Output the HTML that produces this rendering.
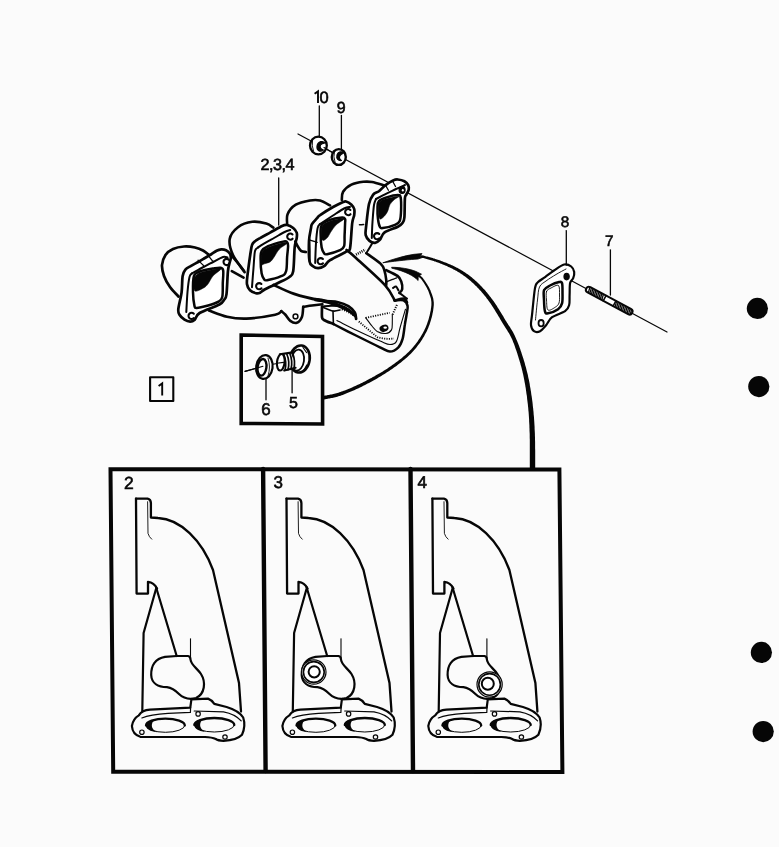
<!DOCTYPE html>
<html><head><meta charset="utf-8"><style>
html,body{margin:0;padding:0;background:#fff;}
body{width:779px;height:847px;overflow:hidden;}
svg{display:block;}
text{font-family:"Liberation Sans",sans-serif;fill:#060606;}
</style></head><body>
<svg width="779" height="847" viewBox="0 0 779 847">
<rect width="779" height="847" fill="#fbfbfb"/>
<g fill="none" stroke="#060606" stroke-linecap="round" stroke-linejoin="round">

<path d="M110.5 469.3 L559.4 469.5 L562.4 772 L113.2 771.8 Z" stroke-width="4" stroke-linejoin="miter"/>
<path d="M263.1 469 L265.6 771" stroke-width="4.4"/>
<path d="M410.5 469 L413 771" stroke-width="4.4"/>
<g transform="translate(0,0)">
<path d="M136 498.6 L147.6 498.6 Q150.8 499.2 150.9 503 L150.9 517.5 L158 518 C180 519 202 540 213 570 L239 683 L241 711.5" stroke-width="2.3"/>
<path d="M136 498.6 L136.6 593.6 L148 593.6 L148 581.8 Q154 582.4 157 588.5" stroke-width="2.3"/>
<path d="M147.6 501.7 L148 533.4 Q149 537 151.7 539.2" stroke-width="0.9"/>
<path d="M156 589 L143.6 633 L142.3 711.5" stroke-width="2.2"/>
<path d="M156 587 L176.7 656" stroke-width="2.2"/>
<path d="M176.7 656 L188 656 Q190.5 656.5 190.5 659.5 C191 665 197 668 201 674 C206 682 205 694 196 698 L191.8 698.8" stroke-width="2.2"/>
<path d="M176.7 656 L165 656.8 C155 658.5 151 666 151.2 675 C151.5 683 158 687 167 687.2 C173 688 176 691 179 694 C183 698 187 699 191.8 698.8" stroke-width="2.2"/>
<path d="M190.5 638.7 L190.5 658" stroke-width="1.1"/>
<path d="M138.8 715.4 Q142 710 150 709.6 L190.3 707.6 L191.4 699.4 L208 698.6 Q211.5 699.8 214.3 703.9 L226.6 707 Q238.5 710.5 243.2 717.5 Q246 726 242 734.7 Q237 740 223.5 740.8 Q218 740.6 215.8 739 Q212 737.2 205 737 L140.3 736.8 Q132.5 734.5 131.9 726 Q133 719 138.8 715.4 Z" stroke-width="2.2"/>
<path d="M141.9 718 Q150 714.3 168 713.3 L190.4 712.4 L190.6 707.5" stroke-width="1.2"/>
<path d="M194.2 711 L223.5 711.8 Q235 714 241.2 720.8" stroke-width="1.2"/>
<path d="M184.8 725.5 A19.4 6.8 0 0 0 146.0 725.5" stroke-width="2.3"/>
<path d="M146.0 725.5 A19.4 6.8 0 0 0 184.8 725.5" stroke-width="1.0"/>
<path d="M157.0 719.3 C149.0 720.2 146.0 722.5 146.0 725.5 C146.0 729.0 150.0 731.3 157.0 732.3 C152.0 729.5 151.5 726.5 152.0 724.0 C152.5 721.5 154.0 720.7 157.0 719.3 Z" fill="#060606" stroke="none"/>
<path d="M234.3 725.0 A20 7 0 0 0 194.3 725.0" stroke-width="2.3"/>
<path d="M194.3 725.0 A20 7 0 0 0 234.3 725.0" stroke-width="1.0"/>
<path d="M205.3 718.6 C197.3 719.5 194.3 722.0 194.3 725.0 C194.3 728.5 198.3 731.0 205.3 732.0 C200.3 729.0 199.8 726.0 200.3 723.5 C200.8 721.0 202.3 720.0 205.3 718.6 Z" fill="#060606" stroke="none"/>
<circle cx="198.1" cy="713.9" r="2.2" stroke-width="1.2"/>
<circle cx="141.9" cy="732.2" r="2.2" stroke-width="1.2"/>
<circle cx="225" cy="737" r="2.2" stroke-width="1.2"/>
</g>
<g transform="translate(150.5,0)">
<path d="M136 498.6 L147.6 498.6 Q150.8 499.2 150.9 503 L150.9 517.5 L158 518 C180 519 202 540 213 570 L239 683 L241 711.5" stroke-width="2.3"/>
<path d="M136 498.6 L136.6 593.6 L148 593.6 L148 581.8 Q154 582.4 157 588.5" stroke-width="2.3"/>
<path d="M147.6 501.7 L148 533.4 Q149 537 151.7 539.2" stroke-width="0.9"/>
<path d="M156 589 L143.6 633 L142.3 711.5" stroke-width="2.2"/>
<path d="M156 587 L176.7 656" stroke-width="2.2"/>
<path d="M176.7 656 L188 656 Q190.5 656.5 190.5 659.5 C191 665 197 668 201 674 C206 682 205 694 196 698 L191.8 698.8" stroke-width="2.2"/>
<path d="M176.7 656 L165 656.8 C155 658.5 151 666 151.2 675 C151.5 683 158 687 167 687.2 C173 688 176 691 179 694 C183 698 187 699 191.8 698.8" stroke-width="2.2"/>
<path d="M190.5 638.7 L190.5 658" stroke-width="1.1"/>
<path d="M138.8 715.4 Q142 710 150 709.6 L190.3 707.6 L191.4 699.4 L208 698.6 Q211.5 699.8 214.3 703.9 L226.6 707 Q238.5 710.5 243.2 717.5 Q246 726 242 734.7 Q237 740 223.5 740.8 Q218 740.6 215.8 739 Q212 737.2 205 737 L140.3 736.8 Q132.5 734.5 131.9 726 Q133 719 138.8 715.4 Z" stroke-width="2.2"/>
<path d="M141.9 718 Q150 714.3 168 713.3 L190.4 712.4 L190.6 707.5" stroke-width="1.2"/>
<path d="M194.2 711 L223.5 711.8 Q235 714 241.2 720.8" stroke-width="1.2"/>
<path d="M184.8 725.5 A19.4 6.8 0 0 0 146.0 725.5" stroke-width="2.3"/>
<path d="M146.0 725.5 A19.4 6.8 0 0 0 184.8 725.5" stroke-width="1.0"/>
<path d="M157.0 719.3 C149.0 720.2 146.0 722.5 146.0 725.5 C146.0 729.0 150.0 731.3 157.0 732.3 C152.0 729.5 151.5 726.5 152.0 724.0 C152.5 721.5 154.0 720.7 157.0 719.3 Z" fill="#060606" stroke="none"/>
<path d="M234.3 725.0 A20 7 0 0 0 194.3 725.0" stroke-width="2.3"/>
<path d="M194.3 725.0 A20 7 0 0 0 234.3 725.0" stroke-width="1.0"/>
<path d="M205.3 718.6 C197.3 719.5 194.3 722.0 194.3 725.0 C194.3 728.5 198.3 731.0 205.3 732.0 C200.3 729.0 199.8 726.0 200.3 723.5 C200.8 721.0 202.3 720.0 205.3 718.6 Z" fill="#060606" stroke="none"/>
<circle cx="198.1" cy="713.9" r="2.2" stroke-width="1.2"/>
<circle cx="141.9" cy="732.2" r="2.2" stroke-width="1.2"/>
<circle cx="225" cy="737" r="2.2" stroke-width="1.2"/>
</g>
<g transform="translate(296.4,0)">
<path d="M136 498.6 L147.6 498.6 Q150.8 499.2 150.9 503 L150.9 517.5 L158 518 C180 519 202 540 213 570 L239 683 L241 711.5" stroke-width="2.3"/>
<path d="M136 498.6 L136.6 593.6 L148 593.6 L148 581.8 Q154 582.4 157 588.5" stroke-width="2.3"/>
<path d="M147.6 501.7 L148 533.4 Q149 537 151.7 539.2" stroke-width="0.9"/>
<path d="M156 589 L143.6 633 L142.3 711.5" stroke-width="2.2"/>
<path d="M156 587 L176.7 656" stroke-width="2.2"/>
<path d="M176.7 656 L188 656 Q190.5 656.5 190.5 659.5 C191 665 197 668 201 674 C206 682 205 694 196 698 L191.8 698.8" stroke-width="2.2"/>
<path d="M176.7 656 L165 656.8 C155 658.5 151 666 151.2 675 C151.5 683 158 687 167 687.2 C173 688 176 691 179 694 C183 698 187 699 191.8 698.8" stroke-width="2.2"/>
<path d="M190.5 638.7 L190.5 658" stroke-width="1.1"/>
<path d="M138.8 715.4 Q142 710 150 709.6 L190.3 707.6 L191.4 699.4 L208 698.6 Q211.5 699.8 214.3 703.9 L226.6 707 Q238.5 710.5 243.2 717.5 Q246 726 242 734.7 Q237 740 223.5 740.8 Q218 740.6 215.8 739 Q212 737.2 205 737 L140.3 736.8 Q132.5 734.5 131.9 726 Q133 719 138.8 715.4 Z" stroke-width="2.2"/>
<path d="M141.9 718 Q150 714.3 168 713.3 L190.4 712.4 L190.6 707.5" stroke-width="1.2"/>
<path d="M194.2 711 L223.5 711.8 Q235 714 241.2 720.8" stroke-width="1.2"/>
<path d="M184.8 725.5 A19.4 6.8 0 0 0 146.0 725.5" stroke-width="2.3"/>
<path d="M146.0 725.5 A19.4 6.8 0 0 0 184.8 725.5" stroke-width="1.0"/>
<path d="M157.0 719.3 C149.0 720.2 146.0 722.5 146.0 725.5 C146.0 729.0 150.0 731.3 157.0 732.3 C152.0 729.5 151.5 726.5 152.0 724.0 C152.5 721.5 154.0 720.7 157.0 719.3 Z" fill="#060606" stroke="none"/>
<path d="M234.3 725.0 A20 7 0 0 0 194.3 725.0" stroke-width="2.3"/>
<path d="M194.3 725.0 A20 7 0 0 0 234.3 725.0" stroke-width="1.0"/>
<path d="M205.3 718.6 C197.3 719.5 194.3 722.0 194.3 725.0 C194.3 728.5 198.3 731.0 205.3 732.0 C200.3 729.0 199.8 726.0 200.3 723.5 C200.8 721.0 202.3 720.0 205.3 718.6 Z" fill="#060606" stroke="none"/>
<circle cx="198.1" cy="713.9" r="2.2" stroke-width="1.2"/>
<circle cx="141.9" cy="732.2" r="2.2" stroke-width="1.2"/>
<circle cx="225" cy="737" r="2.2" stroke-width="1.2"/>
</g>
<circle cx="313.8" cy="672" r="12.2" fill="#fff" stroke-width="1.2"/>
<circle cx="313.8" cy="672" r="10.4" stroke-width="1.6"/>
<circle cx="314.2" cy="671.8" r="5.6" stroke-width="2"/>
<circle cx="489.6" cy="684.4" r="12.6" fill="#fff" stroke-width="1.2"/>
<circle cx="489.6" cy="684.4" r="10.8" stroke-width="1.6"/>
<circle cx="487.8" cy="683.8" r="6" stroke-width="2"/>
<path d="M298 134 L667 332" stroke-width="1.2"/>
<ellipse cx="318.4" cy="145.5" rx="8.4" ry="8.8" fill="#fff" stroke-width="2.3"/>
<path d="M312.5 140.5 Q311.5 146 313.5 151" stroke-width="0.9"/>
<path d="M325 143 C323 140.5 318 141 317 146 C316.5 150.5 320 152.5 323.5 150 C320.5 149.5 319.5 147 320.5 145 C321.5 143.5 323.5 143.2 325 143 Z" fill="#060606" stroke-width="1.2"/>
<path d="M324 147.6 L332.5 152.5" stroke-width="1.2"/>
<ellipse cx="338.8" cy="157" rx="7" ry="7.9" fill="#fff" stroke-width="2.4"/>
<path d="M343.5 153 C342 151 338 151.5 337 155 C336 159 338.5 161 341.5 160.5 C339.5 159.5 339 157.5 339.8 156 C340.5 154.5 342 153.8 343.5 153 Z" fill="#060606" stroke-width="1.2"/>
<path d="M334.5 151.5 Q333 157 335 162" stroke-width="0.9"/>
<path d="M564.1 264.5 C567.0 263.8 569.5 265.2 571.2 266.5 C572.9 267.8 573.9 270.1 574.2 272.0 C574.5 273.9 573.9 276.2 573.2 278.1 C572.5 280.0 570.7 280.3 570.1 283.1 C569.5 285.9 569.8 291.3 569.6 295.0 C569.4 298.7 569.9 302.5 569.1 305.2 C568.4 307.9 567.9 309.2 565.1 311.2 C562.3 313.2 555.3 314.9 552.1 317.2 C548.9 319.5 548.1 322.9 546.1 325.2 C544.1 327.5 542.1 330.2 540.1 331.2 C538.1 332.2 535.5 332.2 534.0 331.2 C532.5 330.2 531.3 327.9 531.0 325.2 C530.7 322.5 531.3 321.4 532.0 315.2 C532.7 309.0 534.0 293.6 535.0 288.1 C536.0 282.6 536.4 283.9 538.1 282.1 C539.8 280.3 542.5 279.0 545.1 277.1 C547.8 275.2 550.8 272.6 554.0 270.5 C557.2 268.4 561.2 265.2 564.1 264.5 Z" stroke-width="2.2" fill="#fff" />
<path d="M535.5 320.0 C535.8 316.7 536.8 305.5 537.5 300.0 C538.2 294.5 538.1 290.2 539.5 287.0 C540.9 283.8 543.2 283.1 546.0 281.0 C548.8 278.9 552.7 276.5 556.0 274.5 C559.3 272.5 564.3 269.9 566.0 269.0" stroke-width="0.9" />
<path d="M544.1 290.1 C545.1 287.7 547.5 286.8 550.0 285.5 C552.5 284.2 557.1 282.5 559.1 282.1 C561.1 281.7 561.4 281.4 562.0 283.0 C562.6 284.6 562.5 288.6 562.5 292.0 C562.5 295.4 562.8 300.2 562.1 303.1 C561.4 306.0 560.4 307.5 558.1 309.2 C555.8 310.9 550.3 312.8 548.1 313.2 C545.9 313.6 545.7 313.7 545.0 311.5 C544.3 309.3 544.1 303.6 544.0 300.0 C543.9 296.4 543.1 292.5 544.1 290.1 Z" stroke-width="2.5" />
<path d="M546.5 291.5 C547.2 289.5 549.0 289.0 551.0 288.0 C553.0 287.0 557.1 284.3 558.5 285.5 C559.9 286.7 559.4 292.1 559.5 295.0 C559.6 297.9 559.7 301.0 559.0 303.0 C558.3 305.0 557.3 305.8 555.5 307.0 C553.7 308.2 549.5 311.2 548.0 310.0 C546.5 308.8 546.8 303.1 546.5 300.0 C546.2 296.9 545.8 293.5 546.5 291.5 Z" stroke-width="0.9" />
<ellipse cx="566.6" cy="276.6" rx="2.6" ry="3.2" fill="#060606" stroke-width="1.2"/>
<ellipse cx="541.1" cy="323.2" rx="2.6" ry="3.2" fill="none" stroke-width="1.8"/>
<g transform="translate(588.5 289.6) rotate(28.2)">
<rect x="-2.5" y="-3" width="52" height="6" rx="3" fill="#fff" stroke-width="2"/>
<path d="M0.2 -2.2 L1.2 2.2 M1.9 -2.2 L2.9 2.2 M3.6 -2.2 L4.6 2.2 M5.3 -2.2 L6.3 2.2 M7.0 -2.2 L8.0 2.2 M8.7 -2.2 L9.7 2.2 M10.4 -2.2 L11.4 2.2 M12.1 -2.2 L13.1 2.2 M13.8 -2.2 L14.8 2.2 M15.5 -2.2 L16.5 2.2" stroke-width="1.3"/>
<path d="M30.5 -2.2 L31.5 2.2 M32.2 -2.2 L33.2 2.2 M33.9 -2.2 L34.9 2.2 M35.6 -2.2 L36.6 2.2 M37.3 -2.2 L38.3 2.2 M39.0 -2.2 L40.0 2.2 M40.7 -2.2 L41.7 2.2 M42.4 -2.2 L43.4 2.2 M44.1 -2.2 L45.1 2.2 M45.8 -2.2 L46.8 2.2 M47.5 -2.2 L48.5 2.2" stroke-width="1.3"/>
<path d="M18.3 -3 L18.3 3 M29.5 -3 L29.5 3" stroke-width="1.5"/>
</g>
<path d="M245 371.4 L265.7 365.6" stroke-width="1.1"/>
<path d="M272.9 364.3 L282.7 362.5" stroke-width="1.1"/>
<ellipse cx="264.4" cy="367" rx="8.2" ry="12" fill="#fff" stroke-width="2.2" transform="rotate(8 264.4 367)"/>
<ellipse cx="262" cy="367.3" rx="4.4" ry="8.4" fill="none" stroke-width="2.4" transform="rotate(8 262 367.3)"/>
<path d="M268 358 Q271 367 268 376" stroke-width="0.9"/>
<path d="M245 371.4 L263 366.3" stroke-width="1.1"/>
<ellipse cx="299.9" cy="359" rx="9.8" ry="13.6" fill="#fff" stroke-width="2.6" transform="rotate(8 299.9 359)"/>
<ellipse cx="297.6" cy="360.2" rx="6.4" ry="10.6" fill="none" stroke-width="1.8" transform="rotate(8 297.6 360.2)"/>
<path d="M303 347.5 L306.5 352.5 M306.8 365 L304 370" stroke-width="1.2"/>
<path d="M280 354.2 L291 352.6 L295.5 368 L284 370.6 Z" fill="#fff" stroke="none"/>
<path d="M279.8 354.3 L291.2 352.6 M284.2 370.6 L295.6 367.8" stroke-width="2.1"/>
<ellipse cx="280.8" cy="362.3" rx="3.8" ry="8.3" fill="#fff" stroke-width="2.1" transform="rotate(6 280.8 362.3)"/>
<path d="M283.8 354.5 Q287 362 285 370.2 M286.8 354 Q290 361.5 288 369.8 M289.8 353.5 Q293 361 291 369.3 M292.6 353 Q295.5 360.5 294 368.6" stroke-width="1.7"/>
<path d="M276.8 363.2 L283.5 362.4" stroke-width="1.1"/>
<path d="M178.5 296.5 C177.1 294.9 172.4 290.4 170.0 287.0 C167.6 283.6 165.3 279.7 164.0 276.0 C162.7 272.3 161.8 268.5 162.0 265.0 C162.2 261.5 163.7 257.7 165.5 255.0 C167.3 252.3 169.9 250.4 173.0 249.0 C176.1 247.6 180.3 246.8 184.0 246.5 C187.7 246.2 191.8 246.8 195.0 247.5 C198.2 248.2 200.8 249.3 203.0 250.5 C205.2 251.7 207.6 253.8 208.5 254.5" stroke-width="2.7" />
<path d="M243.9 270.8 C242.1 268.2 235.4 260.3 233.0 255.0 C230.6 249.7 228.9 243.6 229.7 239.0 C230.5 234.4 234.2 230.1 238.0 227.2 C241.8 224.3 247.5 222.4 252.2 221.8 C256.9 221.2 262.8 222.6 266.3 223.6 C269.8 224.6 272.2 227.0 273.4 227.7" stroke-width="2.6" />
<path d="M230.3 254.1 C231.4 255.4 234.6 259.0 237.0 262.0 C239.4 265.0 243.3 270.4 244.6 272.1" stroke-width="2.6" />
<path d="M231.8 271.1 C233.8 272.2 241.6 276.6 243.6 277.7" stroke-width="2.6" />
<path d="M287.2 225.0 C287.3 223.2 286.2 217.6 287.6 214.2 C289.0 210.8 292.1 207.0 295.8 204.7 C299.5 202.4 306.0 201.2 310.0 200.5 C314.0 199.8 316.6 199.7 320.0 200.5 C323.4 201.3 328.4 204.6 330.1 205.4" stroke-width="2.6" />
<path d="M341.8 200.0 C342.0 198.6 341.5 194.4 343.1 191.8 C344.7 189.2 348.0 186.4 351.4 184.7 C354.8 183.0 359.8 182.2 363.2 181.8 C366.6 181.4 368.5 181.4 372.0 182.0 C375.5 182.6 382.2 184.8 384.3 185.4" stroke-width="2.6" />
<path d="M185.4 269.6 C186.8 267.9 189.0 267.1 191.1 265.8 C193.2 264.5 196.0 263.2 198.2 262.0 C200.3 260.8 201.9 259.8 204.0 258.5 C206.1 257.2 208.8 255.8 210.9 254.5 C213.0 253.2 214.9 251.6 216.6 250.7 C218.3 249.8 219.7 249.4 221.3 249.3 C222.9 249.2 224.6 249.5 226.0 250.2 C227.4 250.9 229.0 252.2 229.8 253.5 C230.6 254.8 230.9 256.5 230.8 258.2 C230.7 259.9 229.8 261.7 229.3 263.9 C228.8 266.1 228.4 266.5 227.9 271.5 C227.4 276.5 227.1 289.4 226.5 294.1 C225.9 298.8 225.3 298.1 224.1 299.8 C222.9 301.5 223.5 302.3 219.4 304.5 C215.3 306.7 203.7 310.5 199.6 313.0 C195.5 315.5 196.4 318.3 194.8 319.7 C193.2 321.1 191.8 321.6 190.1 321.6 C188.4 321.6 186.2 320.8 184.5 319.7 C182.8 318.6 180.7 316.7 179.7 315.0 C178.7 313.3 178.0 313.1 178.3 309.3 C178.6 305.5 180.9 297.8 181.6 292.3 C182.3 286.8 182.0 280.0 182.6 276.2 C183.2 272.4 184.0 271.3 185.4 269.6 Z" stroke-width="2.7" fill="#fff" />
<path d="M186.3 312.0 C186.5 308.7 187.0 297.8 187.5 292.0 C188.0 286.2 188.8 280.1 189.5 277.0 C190.2 273.9 191.4 274.1 191.8 273.5" stroke-width="2.0" />
<path d="M191.8 273.5 C193.8 272.4 199.8 269.0 203.5 267.0 C207.2 265.0 210.8 263.2 214.0 261.5 C217.2 259.8 220.8 257.7 223.0 257.0 C225.2 256.3 226.8 257.4 227.5 257.5" stroke-width="2.0" />
<path d="M198.1 260.3 C199.0 261.2 202.6 264.6 203.5 265.5" stroke-width="1.3" />
<path d="M208.9 256.3 C209.5 257.1 211.9 260.1 212.5 260.8" stroke-width="1.3" />
<path d="M193.9 276.2 C195.0 272.7 196.4 272.8 199.6 271.5 C202.8 270.2 209.3 269.2 212.8 268.6 C216.3 268.0 218.7 267.4 220.4 267.7 C222.1 268.0 222.8 268.0 223.2 270.5 C223.6 273.0 223.0 278.4 222.8 282.8 C222.7 287.2 223.0 293.9 222.3 297.0 C221.6 300.1 220.9 300.3 218.5 301.7 C216.1 303.1 211.7 304.5 208.1 305.5 C204.5 306.5 199.0 307.9 196.7 307.9 C194.4 307.9 195.0 308.1 194.4 305.5 C193.8 302.9 193.1 297.2 193.0 292.3 C192.9 287.4 192.8 279.7 193.9 276.2 Z" stroke-width="2.5" />
<path d="M194.5 277.5 C195.5 276.0 196.8 274.1 199.8 272.8 C202.9 271.5 209.3 270.5 212.8 269.8 C216.3 269.1 221.0 267.9 221.0 268.9 C221.0 269.9 215.2 273.5 213.0 276.0 C210.8 278.5 209.6 282.0 208.0 284.0 C206.4 286.0 205.7 286.8 203.5 288.0 C201.3 289.2 196.6 292.0 195.0 291.0 C193.4 290.0 194.1 284.2 194.0 282.0 C193.9 279.8 193.5 279.0 194.5 277.5 Z" stroke-width="0.5" fill="#060606" />
<path d="M253.0 243.1 C254.5 241.1 257.2 239.8 260.1 238.1 C263.0 236.3 266.4 234.6 270.1 232.6 C273.8 230.6 279.3 227.3 282.1 226.0 C284.9 224.7 285.2 224.7 287.1 225.0 C289.0 225.3 291.6 226.7 293.2 228.0 C294.8 229.3 296.1 230.9 296.7 232.6 C297.3 234.3 297.0 235.7 296.7 238.1 C296.4 240.5 295.3 241.6 294.7 247.1 C294.1 252.6 294.1 266.2 293.2 271.2 C292.3 276.2 291.6 275.2 289.1 277.2 C286.6 279.2 282.0 281.0 278.0 283.0 C274.0 285.0 268.1 287.6 265.1 289.2 C262.1 290.8 261.6 292.0 260.1 292.7 C258.6 293.4 257.7 293.6 256.0 293.2 C254.3 292.8 251.5 291.7 250.0 290.2 C248.5 288.7 247.4 286.7 247.0 284.2 C246.6 281.7 246.8 280.9 247.5 275.2 C248.2 269.5 250.1 255.4 251.0 250.1 C251.9 244.8 251.5 245.1 253.0 243.1 Z" stroke-width="2.7" fill="#fff" />
<path d="M252.0 287.2 C252.2 284.0 253.0 274.0 253.5 268.0 C254.0 262.0 254.2 254.5 255.0 251.1 C255.8 247.7 257.5 248.1 258.0 247.5" stroke-width="2.0" />
<path d="M258.0 247.5 C258.9 246.9 260.4 245.7 263.1 244.1 C265.8 242.5 270.4 240.0 274.0 238.0 C277.6 236.0 281.9 233.3 284.6 232.0 C287.3 230.7 289.3 230.3 290.2 230.0" stroke-width="2.0" />
<path d="M261.6 251.1 C262.9 248.9 264.5 247.7 268.1 246.1 C271.7 244.5 279.9 242.3 283.1 241.6 C286.3 240.9 286.3 241.3 287.1 242.1 C287.9 242.8 288.1 243.6 288.1 246.1 C288.1 248.6 287.4 252.9 287.1 257.1 C286.8 261.3 287.1 268.0 286.1 271.2 C285.1 274.4 284.3 274.7 281.1 276.2 C277.9 277.7 269.9 279.7 267.1 280.2 C264.3 280.7 265.0 280.4 264.1 279.2 C263.2 278.0 262.2 276.5 261.6 273.2 C261.0 269.9 260.6 262.8 260.6 259.1 C260.6 255.4 260.4 253.3 261.6 251.1 Z" stroke-width="2.5" />
<path d="M262.3 252.0 C263.5 250.4 264.9 248.8 268.4 247.3 C271.9 245.8 280.0 243.4 283.1 242.8 C286.2 242.2 287.6 242.5 287.0 243.5 C286.4 244.5 281.8 246.6 279.5 249.0 C277.2 251.4 275.1 255.8 273.5 258.0 C271.9 260.2 271.5 261.0 270.0 262.0 C268.5 263.0 265.9 263.4 264.5 263.8 C263.1 264.2 262.1 265.6 261.5 264.5 C260.9 263.4 261.1 259.1 261.2 257.0 C261.3 254.9 261.1 253.6 262.3 252.0 Z" stroke-width="0.5" fill="#060606" />
<path d="M312.0 224.1 C313.0 222.4 315.8 219.6 317.1 218.1 C318.5 216.6 317.4 216.9 320.1 215.1 C322.8 213.2 329.4 209.1 333.1 207.0 C336.8 204.9 339.9 203.4 342.1 202.5 C344.3 201.6 344.6 201.2 346.1 201.5 C347.6 201.8 349.9 203.2 351.2 204.5 C352.5 205.8 353.7 207.2 354.2 209.0 C354.7 210.8 354.5 212.8 354.2 215.1 C353.9 217.4 352.9 217.8 352.2 223.1 C351.5 228.4 351.0 242.5 350.2 247.2 C349.4 251.9 350.5 249.0 347.1 251.2 C343.8 253.4 333.9 257.7 330.1 260.2 C326.3 262.7 326.1 264.9 324.1 266.2 C322.1 267.5 320.0 268.2 318.1 268.2 C316.2 268.2 314.4 267.4 313.0 266.2 C311.6 265.0 310.2 265.4 309.5 261.2 C308.8 257.0 308.8 246.6 309.0 241.1 C309.2 235.6 310.5 230.9 311.0 228.1 C311.5 225.3 311.0 225.8 312.0 224.1 Z" stroke-width="2.7" fill="#fff" />
<path d="M315.2 263.0 C315.3 259.7 315.6 248.8 316.0 243.0 C316.4 237.2 316.9 231.3 317.6 228.1 C318.3 224.9 319.6 224.7 320.0 224.0" stroke-width="2.0" />
<path d="M320.0 224.0 C322.2 222.6 329.0 218.1 333.0 215.5 C337.0 212.9 341.3 209.9 344.1 208.5 C346.9 207.1 349.0 207.2 350.0 207.0" stroke-width="2.0" />
<path d="M309.5 239.8 C310.8 240.2 315.8 241.9 317.1 242.3" stroke-width="1.4" />
<path d="M321.6 225.1 C323.0 222.9 325.7 221.3 329.1 220.1 C332.5 218.8 339.4 217.8 342.1 217.6 C344.8 217.4 344.6 218.2 345.1 219.1 C345.6 220.0 345.2 220.4 345.1 223.1 C345.0 225.8 344.8 231.2 344.6 235.0 C344.4 238.8 344.9 243.7 344.1 246.2 C343.4 248.7 342.9 248.9 340.1 250.2 C337.3 251.5 329.8 253.7 327.1 254.2 C324.4 254.7 325.0 254.4 324.1 253.2 C323.2 252.0 322.2 250.5 321.6 247.2 C321.0 243.8 320.6 236.8 320.6 233.1 C320.6 229.4 320.2 227.3 321.6 225.1 Z" stroke-width="2.5" />
<path d="M322.3 226.0 C323.6 223.5 325.7 222.4 329.3 221.2 C332.9 220.0 342.9 218.1 344.0 218.7 C345.1 219.3 338.2 222.7 336.0 225.0 C333.8 227.3 331.9 230.4 330.5 232.5 C329.1 234.6 328.8 236.2 327.5 237.5 C326.2 238.8 324.0 240.8 323.0 240.5 C322.0 240.2 321.4 238.4 321.3 236.0 C321.2 233.6 321.0 228.5 322.3 226.0 Z" stroke-width="0.5" fill="#060606" />
<path d="M385.5 185.1 C387.9 183.3 391.1 181.3 393.1 180.4 C395.2 179.5 395.9 179.3 397.8 179.5 C399.7 179.7 402.7 180.4 404.4 181.3 C406.1 182.2 407.5 183.7 408.2 185.1 C408.9 186.5 409.0 188.2 408.7 189.8 C408.4 191.4 406.9 193.2 406.3 194.6 C405.7 196.0 405.2 194.6 404.9 198.4 C404.6 202.2 404.8 213.2 404.4 217.3 C404.0 221.4 403.6 221.3 402.5 222.9 C401.4 224.5 400.8 225.1 397.8 226.7 C394.8 228.3 387.6 230.2 384.6 232.4 C381.6 234.6 381.4 238.2 379.8 239.9 C378.2 241.6 376.8 242.6 375.1 242.8 C373.4 243.0 371.1 242.2 369.5 240.9 C367.9 239.6 366.3 237.6 365.7 235.2 C365.1 232.8 365.6 231.9 366.1 226.7 C366.7 221.5 367.8 209.3 369.0 204.0 C370.2 198.7 371.6 196.7 373.2 194.6 C374.8 192.5 376.8 192.9 378.9 191.3 C380.9 189.7 383.1 186.9 385.5 185.1 Z" stroke-width="2.7" fill="#fff" />
<path d="M371.8 238.0 C371.9 235.3 372.1 227.5 372.5 222.0 C372.9 216.5 373.4 208.8 374.0 205.0 C374.6 201.2 375.7 200.0 376.0 199.0" stroke-width="2.0" />
<path d="M376.0 199.0 C377.5 198.2 381.7 196.0 385.0 194.3 C388.3 192.6 392.7 190.6 396.0 189.0 C399.3 187.4 403.5 185.7 405.0 185.0" stroke-width="2.0" />
<path d="M378.9 201.2 C380.4 199.5 383.4 198.4 386.5 197.4 C389.6 196.4 395.4 195.0 397.8 195.0 C400.2 195.0 400.1 195.0 400.6 197.4 C401.2 199.8 401.2 205.8 401.1 209.7 C401.0 213.6 400.7 218.5 399.7 221.0 C398.7 223.5 397.8 223.6 395.0 224.8 C392.2 226.0 385.2 227.8 382.7 228.1 C380.2 228.4 380.6 228.2 379.8 226.7 C379.0 225.2 378.4 222.2 378.0 219.1 C377.6 215.9 377.4 210.8 377.5 207.8 C377.6 204.8 377.4 202.9 378.9 201.2 Z" stroke-width="2.5" />
<path d="M379.5 202.0 C380.9 199.8 383.4 199.5 386.7 198.5 C389.9 197.5 397.7 196.0 399.0 196.2 C400.3 196.4 396.0 198.1 394.5 199.5 C393.0 200.9 391.1 202.6 390.0 204.5 C388.9 206.4 388.7 209.1 387.8 211.0 C386.9 212.9 385.8 214.7 384.5 216.0 C383.2 217.3 381.0 219.7 380.0 219.0 C379.0 218.3 378.6 214.8 378.5 212.0 C378.4 209.2 378.1 204.2 379.5 202.0 Z" stroke-width="0.5" fill="#060606" />
<path d="M385.5 185.1 C386.0 186.0 387.9 189.4 388.4 190.3" stroke-width="1.3" />
<path d="M392.5 181.0 C393.0 181.9 395.0 185.6 395.5 186.5" stroke-width="1.3" />
<path d="M209.0 310.5 C212.0 311.5 220.8 315.3 227.0 316.7 C233.2 318.1 238.3 318.9 246.3 318.6 C254.3 318.3 269.4 315.9 275.2 314.7 C281.0 313.5 280.3 311.8 281.3 311.2" stroke-width="2.6" />
<path d="M281.3 311.2 C281.9 311.8 283.7 312.9 285.2 314.5 C286.7 316.1 288.4 319.5 290.3 320.9 C292.2 322.3 294.9 323.4 296.8 322.8 C298.7 322.2 300.8 319.7 301.9 317.0 C303.0 314.3 303.0 308.5 303.2 306.8" stroke-width="2.6" />
<circle cx="295.5" cy="316.4" r="2.4" stroke-width="1.5"/>
<path d="M303.2 306.8 C304.7 306.6 308.8 305.9 312.0 305.5 C315.2 305.1 320.7 304.4 322.4 304.2" stroke-width="2.6" />
<path d="M273.6 284.9 C277.0 286.4 286.5 291.3 294.2 293.9 C301.9 296.5 312.6 298.9 319.9 300.3 C327.2 301.7 333.4 301.2 338.1 302.2 C342.9 303.2 345.6 304.4 348.4 306.1 C351.2 307.8 353.5 310.4 354.8 312.5 C356.1 314.6 355.9 317.8 356.1 318.9" stroke-width="2.7" />
<path d="M346.5 250.0 C348.1 251.3 349.6 252.1 356.0 258.0 C362.4 263.9 378.8 278.2 385.2 285.3 C391.6 292.4 393.1 298.0 394.7 300.5" stroke-width="2.6" />
<path d="M366.3 253.2 C368.7 254.9 377.5 260.8 380.5 263.6 C383.5 266.4 383.4 267.5 384.3 270.2 C385.2 272.9 385.9 277.2 386.2 279.7 C386.5 282.2 386.2 284.4 386.2 285.3" stroke-width="2.6" />
<path d="M372.0 243.8 C371.1 245.4 367.2 251.6 366.3 253.2" stroke-width="2.0" />
<path d="M356 254.5 L365.4 249.6" stroke-width="2.6" stroke-dasharray="1 1.1" stroke-linecap="butt"/>
<path d="M386.2 270.2 C388.1 271.1 395.0 274.0 397.5 275.9 C400.0 277.8 400.5 279.4 401.3 281.6 C402.1 283.8 402.5 287.2 402.2 289.1 C401.9 291.0 399.9 292.3 399.4 292.9" stroke-width="2.6" />
<path d="M387.1 281.6 C388.7 281.0 395.0 278.4 396.6 277.8" stroke-width="1.3" />
<path d="M393.0 288.0 C393.5 287.8 395.1 286.1 396.0 286.5 C396.9 286.9 398.1 289.8 398.5 290.5" stroke-width="2.0" />
<path d="M394.7 300.5 C396.3 300.2 402.1 298.3 404.1 298.6 C406.2 298.9 406.5 301.7 407.0 302.3" stroke-width="2.6" />
<path d="M399.4 292.9 C400.7 293.8 405.7 297.7 407.0 298.6" stroke-width="2.0" />
<path d="M394.7 300.5 C396.2 300.5 401.4 299.5 403.5 300.4 C405.6 301.3 407.1 303.7 407.6 306.1 C408.1 308.5 406.9 311.9 406.5 315.0 C406.1 318.1 405.5 320.4 404.9 324.4 C404.2 328.4 403.7 335.1 402.6 338.9 C401.5 342.7 400.5 345.2 398.4 347.3 C396.3 349.4 393.1 351.6 390.0 351.6 C386.9 351.6 385.7 350.0 380.0 347.3 C374.3 344.6 363.8 339.4 356.0 335.5 C348.2 331.6 337.2 325.9 333.4 324.0" stroke-width="2.5" />
<path d="M322.0 306.5 C323.5 306.4 327.9 305.8 331.0 305.7 C334.1 305.6 338.8 305.9 340.4 306.0" stroke-width="2.0" />
<path d="M322.0 306.5 C322.0 308.2 321.7 314.8 322.0 317.0 C322.3 319.2 322.1 318.8 324.0 320.0 C325.9 321.2 331.8 323.3 333.4 324.0" stroke-width="2.7" />
<path d="M333.0 311.0 C333.1 313.2 333.3 321.8 333.4 324.0" stroke-width="1.6" />
<path d="M322.5 307.0 C324.2 307.7 330.1 310.5 333.0 311.0 C335.9 311.5 338.8 310.2 340.0 310.0" stroke-width="1.6" />
<path d="M315 298.5 C325 299 336 303 345 307 C351 310 355 314 356.5 318.5 C354 315 350 312 345 309.5 C336 305.5 325 301.5 315 300.5 Z" fill="#060606" stroke-width="1.4"/>
<path d="M336.9 320.5 C340.4 322.2 350.6 327.5 358.0 331.0 C365.4 334.5 376.1 339.4 381.4 341.6 C386.7 343.9 387.5 344.5 390.0 344.5 C392.5 344.5 394.6 344.4 396.3 341.6 C398.0 338.9 398.5 333.4 400.0 328.0 C401.5 322.6 404.6 312.3 405.5 309.2" stroke-width="1.1" />
<g stroke-linecap="butt" stroke-dasharray="1.1 1.3">
<path d="M341.8 309.2 Q350 312 354.5 316.3" stroke-width="2"/>
<path d="M358.8 321.5 L377.2 337.1 Q385 339.5 394 338.5" stroke-width="1.8"/>
<path d="M396.9 304.8 L392.6 314.6" stroke-width="2"/>
<path d="M365.7 317.8 L389.7 312.8" stroke-width="1.8"/>
</g>
<path d="M365.7 317.8 C366.8 319.2 370.1 323.7 372.0 326.0 C373.9 328.3 374.9 330.1 377.2 331.4 C379.5 332.6 383.4 333.8 385.8 333.5 C388.2 333.2 390.4 331.8 391.5 329.9 C392.6 328.0 392.2 324.6 392.3 322.0 C392.4 319.4 392.3 315.7 392.3 314.4" stroke-width="1.1" />
<ellipse cx="384" cy="328.2" rx="4.6" ry="3.4" fill="#060606" stroke="none" transform="rotate(-20 384 328.2)"/>
<ellipse cx="385.2" cy="327.6" rx="1.8" ry="1.2" fill="#fff" stroke="none"/>
<ellipse cx="402.1" cy="190" rx="3" ry="3.4" fill="#060606" stroke-width="1.2"/>
<ellipse cx="402.8" cy="190.3" rx="1" ry="1.2" fill="#fff" stroke="none"/>
<path d="M228.8 259.8 A3.1 3.1 0 1 0 228.9 264.1" stroke-width="2.1"/>
<path d="M193.8 313.7 A3.1 3.1 0 1 0 193.9 318.0" stroke-width="2.1"/>
<path d="M292.5 234.4 A3.1 3.1 0 1 0 292.6 238.7" stroke-width="2.1"/>
<path d="M261.4 284.0 A3.1 3.1 0 1 0 261.5 288.3" stroke-width="2.1"/>
<path d="M350.4 209.9 A3.1 3.1 0 1 0 350.5 214.2" stroke-width="2.1"/>
<path d="M322.9 259.0 A3.1 3.1 0 1 0 323.0 263.3" stroke-width="2.1"/>
<path d="M379.3 234.0 A3.1 3.1 0 1 0 379.4 238.3" stroke-width="2.1"/>
<path d="M295.3 241.4 C295.7 242.2 296.6 244.4 297.5 246.0 C298.4 247.6 299.6 249.8 301.0 250.8 C302.4 251.8 305.1 251.8 305.9 252.0" stroke-width="2.7" />
<path d="M309.5 240.0 C309.6 241.7 309.9 246.5 310.0 250.0 C310.1 253.5 309.8 259.2 309.8 261.0" stroke-width="1.3" />
<path d="M359.5 224.8 C360.2 224.8 362.9 224.6 363.6 224.5" stroke-width="1.6" />
<path d="M420.7 257.4 L421.1 257.5 L421.6 257.6 L422.2 257.8 L422.8 258.0 L423.5 258.1 L424.2 258.3 L425.0 258.6 L425.8 258.8 L426.6 259.0 L427.5 259.2 L428.3 259.5 L429.2 259.7 L430.1 260.0 L431.0 260.3 L431.9 260.5 L432.8 260.8 L433.7 261.1 L434.5 261.4 L435.4 261.6 L436.2 261.9 L437.0 262.2 L437.8 262.5 L438.6 262.8 L439.4 263.1 L440.2 263.4 L441.0 263.8 L441.9 264.1 L442.7 264.4 L443.5 264.8 L444.3 265.1 L445.2 265.4 L446.0 265.8 L446.8 266.1 L447.6 266.5 L448.4 266.9 L449.2 267.2 L449.9 267.6 L450.7 267.9 L451.4 268.3 L452.1 268.6 L452.8 269.0 L453.5 269.4 L454.2 269.7 L454.9 270.1 L455.5 270.4 L456.2 270.8 L456.8 271.1 L457.4 271.5 L458.0 271.9 L458.7 272.2 L459.3 272.6 L459.9 273.0 L460.5 273.4 L461.1 273.8 L461.7 274.2 L462.3 274.6 L462.9 275.0 L463.5 275.4 L464.1 275.9 L464.7 276.3 L465.4 276.8 L466.0 277.3 L466.6 277.8 L467.2 278.3 L467.9 278.7 L468.5 279.2 L469.1 279.8 L469.7 280.3 L470.4 280.8 L471.0 281.3 L471.6 281.9 L472.2 282.4 L472.9 283.0 L473.5 283.6 L474.1 284.2 L474.7 284.8 L475.3 285.4 L476.0 286.0 L476.6 286.6 L477.2 287.3 L477.8 287.9 L478.5 288.6 L479.1 289.3 L479.7 289.9 L480.3 290.6 L481.0 291.3 L481.6 292.0 L482.2 292.8 L482.9 293.5 L483.5 294.2 L484.1 295.0 L484.7 295.8 L485.4 296.6 L486.0 297.3 L486.6 298.2 L487.2 299.0 L487.9 299.8 L488.5 300.7 L489.1 301.5 L489.8 302.4 L490.4 303.3 L491.0 304.2 L491.7 305.2 L492.3 306.2 L493.0 307.2 L493.6 308.2 L494.3 309.3 L494.9 310.3 L495.6 311.4 L496.2 312.4 L496.9 313.5 L497.5 314.6 L498.2 315.7 L498.8 316.8 L499.5 317.8 L500.1 318.9 L500.7 319.9 L501.3 320.9 L501.9 321.9 L502.5 322.9 L503.1 323.9 L503.6 324.8 L504.2 325.7 L504.7 326.6 L505.3 327.4 L505.8 328.2 L506.3 329.0 L506.8 329.8 L507.3 330.6 L507.8 331.4 L508.3 332.2 L508.8 333.0 L509.3 333.8 L509.8 334.7 L510.2 335.6 L510.7 336.5 L511.2 337.5 L511.7 338.5 L512.2 339.6 L512.7 340.8 L513.1 342.0 L513.7 343.3 L514.2 344.6 L514.7 346.0 L515.2 347.5 L515.7 349.0 L516.3 350.5 L516.8 352.0 L517.3 353.6 L517.8 355.2 L518.3 356.8 L518.8 358.4 L519.3 360.1 L519.8 361.7 L520.3 363.3 L520.7 364.9 L521.2 366.6 L521.6 368.1 L522.0 369.7 L522.4 371.2 L522.7 372.8 L523.1 374.3 L523.4 375.8 L523.7 377.3 L524.0 378.8 L524.3 380.3 L524.6 381.9 L524.9 383.4 L525.2 384.9 L525.4 386.4 L525.7 388.0 L525.9 389.5 L526.1 391.0 L526.3 392.5 L526.5 394.1 L526.8 395.6 L527.0 397.1 L527.1 398.6 L527.3 400.2 L527.5 401.7 L527.7 403.2 L527.9 404.7 L528.0 406.2 L528.2 407.7 L528.3 409.2 L528.4 410.6 L528.6 412.1 L528.7 413.6 L528.8 415.1 L528.9 416.5 L529.0 418.0 L529.1 419.5 L529.1 421.0 L529.2 422.6 L529.3 424.1 L529.4 425.7 L529.4 427.3 L529.5 428.9 L529.5 430.5 L529.6 432.2 L529.7 433.9 L529.7 435.8 L529.7 437.7 L529.8 439.7 L529.8 441.8 L529.8 443.9 L529.8 446.0 L529.8 448.2 L529.8 450.3 L529.8 452.5 L529.8 454.6 L529.8 456.6 L529.8 458.6 L529.8 460.4 L529.8 462.2 L529.8 463.9 L529.8 465.4 L529.8 466.8 L529.8 468.0 L529.8 469.0 L535.2 469.0 L535.2 468.0 L535.2 466.8 L535.2 465.4 L535.2 463.9 L535.2 462.2 L535.2 460.4 L535.2 458.6 L535.2 456.6 L535.2 454.6 L535.2 452.5 L535.2 450.3 L535.1 448.2 L535.1 446.0 L535.1 443.9 L535.1 441.7 L535.0 439.6 L535.0 437.6 L534.9 435.6 L534.9 433.8 L534.8 432.0 L534.7 430.3 L534.6 428.7 L534.6 427.0 L534.5 425.4 L534.4 423.9 L534.3 422.3 L534.2 420.7 L534.1 419.2 L534.0 417.7 L533.9 416.2 L533.7 414.7 L533.6 413.2 L533.5 411.7 L533.3 410.2 L533.2 408.7 L533.0 407.2 L532.8 405.7 L532.7 404.2 L532.5 402.6 L532.3 401.1 L532.1 399.6 L531.9 398.0 L531.7 396.5 L531.4 394.9 L531.2 393.4 L531.0 391.8 L530.7 390.3 L530.5 388.8 L530.2 387.2 L529.9 385.7 L529.7 384.1 L529.4 382.6 L529.1 381.0 L528.8 379.5 L528.4 377.9 L528.1 376.4 L527.8 374.8 L527.4 373.3 L527.0 371.7 L526.6 370.2 L526.2 368.6 L525.8 367.0 L525.3 365.4 L524.9 363.8 L524.4 362.1 L523.9 360.5 L523.4 358.8 L522.9 357.2 L522.3 355.5 L521.8 353.9 L521.3 352.3 L520.7 350.7 L520.2 349.1 L519.6 347.6 L519.1 346.1 L518.5 344.6 L518.0 343.2 L517.4 341.8 L516.9 340.5 L516.3 339.2 L515.8 338.0 L515.3 336.9 L514.8 335.8 L514.3 334.7 L513.8 333.7 L513.3 332.8 L512.8 331.8 L512.3 331.0 L511.7 330.1 L511.2 329.3 L510.7 328.4 L510.2 327.6 L509.7 326.8 L509.2 326.0 L508.6 325.2 L508.1 324.4 L507.6 323.6 L507.0 322.7 L506.5 321.8 L505.9 320.9 L505.3 319.9 L504.7 318.9 L504.1 317.9 L503.5 316.8 L502.9 315.8 L502.2 314.7 L501.6 313.7 L500.9 312.6 L500.2 311.5 L499.6 310.4 L498.9 309.3 L498.2 308.3 L497.5 307.2 L496.9 306.1 L496.2 305.1 L495.5 304.1 L494.8 303.1 L494.2 302.1 L493.5 301.1 L492.8 300.2 L492.2 299.3 L491.5 298.4 L490.9 297.5 L490.2 296.7 L489.6 295.9 L488.9 295.0 L488.3 294.2 L487.6 293.4 L487.0 292.6 L486.3 291.9 L485.7 291.1 L485.0 290.3 L484.4 289.6 L483.7 288.9 L483.0 288.2 L482.4 287.5 L481.7 286.8 L481.1 286.1 L480.4 285.4 L479.8 284.7 L479.1 284.1 L478.5 283.4 L477.8 282.8 L477.2 282.2 L476.5 281.6 L475.8 281.0 L475.2 280.4 L474.5 279.8 L473.9 279.3 L473.2 278.7 L472.6 278.2 L471.9 277.6 L471.3 277.1 L470.6 276.6 L469.9 276.1 L469.3 275.6 L468.6 275.1 L468.0 274.6 L467.3 274.1 L466.7 273.7 L466.0 273.2 L465.4 272.8 L464.7 272.3 L464.1 271.9 L463.4 271.5 L462.8 271.1 L462.2 270.7 L461.5 270.3 L460.9 269.9 L460.3 269.5 L459.6 269.2 L459.0 268.8 L458.3 268.4 L457.7 268.1 L457.0 267.7 L456.3 267.4 L455.6 267.0 L454.9 266.7 L454.2 266.3 L453.5 266.0 L452.7 265.6 L451.9 265.2 L451.2 264.9 L450.4 264.5 L449.6 264.2 L448.7 263.9 L447.9 263.5 L447.1 263.2 L446.2 262.8 L445.4 262.5 L444.5 262.2 L443.7 261.9 L442.8 261.5 L442.0 261.2 L441.2 260.9 L440.3 260.6 L439.5 260.3 L438.7 260.0 L437.8 259.7 L437.0 259.5 L436.2 259.2 L435.3 258.9 L434.5 258.6 L433.6 258.4 L432.7 258.1 L431.7 257.8 L430.8 257.6 L429.9 257.3 L429.0 257.1 L428.1 256.8 L427.3 256.6 L426.4 256.4 L425.6 256.2 L424.8 256.0 L424.1 255.8 L423.4 255.6 L422.8 255.4 L422.2 255.3 L421.8 255.2 L421.3 255.0 Z" fill="#060606" stroke="none"/>
<path d="M383.2 262.7 C392 259.5 405 255.5 414 254.3 L422 253.6 L420.2 256 L423 257.3 L418 259 C410 259.5 400 260.5 383.2 262.7 Z" fill="#060606" stroke="#060606" stroke-width="0.8"/>
<path d="M323.4 399.6 L323.8 399.5 L324.3 399.4 L324.9 399.3 L325.5 399.2 L326.2 399.0 L326.9 398.9 L327.7 398.8 L328.5 398.6 L329.4 398.5 L330.3 398.3 L331.3 398.1 L332.2 397.9 L333.2 397.7 L334.2 397.5 L335.3 397.2 L336.3 397.0 L337.4 396.7 L338.4 396.3 L339.5 396.0 L340.6 395.7 L341.6 395.3 L342.7 394.9 L343.8 394.5 L345.0 394.0 L346.1 393.6 L347.3 393.1 L348.5 392.6 L349.7 392.1 L351.0 391.6 L352.2 391.0 L353.5 390.5 L354.8 389.9 L356.0 389.3 L357.3 388.8 L358.6 388.2 L359.9 387.5 L361.2 386.9 L362.5 386.3 L363.8 385.6 L365.1 385.0 L366.3 384.3 L367.6 383.6 L369.0 382.9 L370.3 382.2 L371.7 381.4 L373.0 380.7 L374.4 379.9 L375.8 379.2 L377.1 378.4 L378.5 377.6 L379.9 376.8 L381.3 375.9 L382.6 375.1 L384.0 374.3 L385.3 373.5 L386.6 372.6 L387.9 371.8 L389.2 370.9 L390.4 370.1 L391.7 369.2 L392.8 368.4 L394.0 367.5 L395.2 366.7 L396.4 365.9 L397.5 365.0 L398.7 364.1 L399.8 363.3 L400.9 362.4 L402.0 361.5 L403.1 360.6 L404.2 359.7 L405.3 358.8 L406.3 357.9 L407.4 357.0 L408.4 356.1 L409.4 355.1 L410.3 354.2 L411.3 353.2 L412.2 352.2 L413.1 351.2 L414.0 350.2 L414.9 349.2 L415.8 348.2 L416.6 347.2 L417.4 346.1 L418.2 345.1 L419.0 344.0 L419.8 343.0 L420.5 341.9 L421.3 340.8 L422.0 339.7 L422.7 338.6 L423.3 337.5 L424.0 336.4 L424.6 335.3 L425.2 334.1 L425.8 333.0 L426.4 331.9 L427.0 330.8 L427.5 329.6 L428.0 328.5 L428.5 327.3 L428.9 326.1 L429.4 324.9 L429.8 323.7 L430.2 322.4 L430.6 321.2 L431.0 319.9 L431.3 318.7 L431.7 317.4 L432.0 316.2 L432.3 315.0 L432.5 313.8 L432.8 312.6 L433.0 311.4 L433.2 310.3 L433.3 309.2 L433.5 308.1 L433.6 307.1 L433.7 306.1 L433.8 305.2 L433.8 304.3 L433.8 303.4 L433.8 302.5 L433.7 301.7 L433.6 300.9 L433.5 300.2 L433.4 299.4 L433.3 298.7 L433.1 298.0 L432.9 297.3 L432.7 296.7 L432.5 296.0 L432.3 295.4 L432.1 294.7 L431.8 294.1 L431.6 293.4 L431.3 292.8 L431.1 292.2 L430.8 291.5 L430.6 290.8 L430.3 290.1 L429.9 289.4 L429.6 288.7 L429.3 288.0 L428.9 287.3 L428.5 286.6 L428.1 285.9 L427.7 285.3 L427.3 284.6 L426.9 283.9 L426.5 283.3 L426.1 282.7 L425.7 282.1 L425.3 281.5 L424.9 280.9 L424.6 280.4 L424.2 279.8 L423.8 279.4 L423.5 278.9 L423.2 278.5 L422.8 278.0 L422.5 277.6 L422.1 277.2 L421.7 276.9 L421.4 276.6 L421.0 276.2 L420.7 276.0 L420.3 275.7 L420.0 275.4 L419.7 275.2 L419.4 275.0 L419.1 274.8 L418.8 274.6 L418.6 274.4 L418.3 274.2 L418.1 274.1 L417.9 274.0 L417.8 273.8 L417.6 273.7 L416.4 275.3 L416.5 275.4 L416.7 275.6 L417.0 275.7 L417.2 275.9 L417.4 276.1 L417.7 276.2 L417.9 276.4 L418.2 276.6 L418.5 276.8 L418.8 277.0 L419.1 277.3 L419.4 277.5 L419.7 277.8 L420.0 278.0 L420.3 278.3 L420.7 278.6 L421.0 279.0 L421.3 279.3 L421.6 279.7 L421.9 280.1 L422.2 280.5 L422.5 281.0 L422.9 281.5 L423.3 282.1 L423.6 282.6 L424.0 283.2 L424.4 283.8 L424.8 284.4 L425.2 285.0 L425.5 285.7 L425.9 286.3 L426.3 287.0 L426.6 287.6 L427.0 288.3 L427.3 289.0 L427.7 289.7 L428.0 290.3 L428.3 291.0 L428.5 291.6 L428.8 292.3 L429.0 292.9 L429.2 293.6 L429.5 294.2 L429.7 294.9 L429.9 295.5 L430.1 296.1 L430.3 296.7 L430.5 297.3 L430.7 297.9 L430.9 298.6 L431.0 299.2 L431.1 299.8 L431.2 300.5 L431.3 301.2 L431.4 301.9 L431.4 302.6 L431.4 303.4 L431.4 304.2 L431.4 305.0 L431.3 305.9 L431.2 306.8 L431.1 307.8 L430.9 308.8 L430.8 309.9 L430.6 311.0 L430.3 312.1 L430.1 313.2 L429.8 314.4 L429.6 315.6 L429.2 316.8 L428.9 318.0 L428.6 319.2 L428.2 320.4 L427.8 321.6 L427.4 322.8 L427.0 324.0 L426.5 325.2 L426.1 326.3 L425.6 327.5 L425.1 328.6 L424.6 329.6 L424.1 330.7 L423.5 331.8 L422.9 332.9 L422.3 334.0 L421.7 335.0 L421.1 336.1 L420.4 337.2 L419.7 338.2 L419.0 339.3 L418.3 340.3 L417.6 341.4 L416.8 342.4 L416.0 343.4 L415.3 344.4 L414.4 345.4 L413.6 346.4 L412.8 347.4 L411.9 348.4 L411.1 349.4 L410.2 350.3 L409.3 351.2 L408.3 352.2 L407.4 353.1 L406.4 354.0 L405.4 354.9 L404.4 355.8 L403.4 356.6 L402.4 357.5 L401.3 358.4 L400.2 359.2 L399.1 360.1 L398.0 360.9 L396.9 361.8 L395.8 362.6 L394.6 363.5 L393.5 364.3 L392.3 365.1 L391.1 365.9 L389.9 366.8 L388.7 367.6 L387.5 368.4 L386.3 369.2 L385.0 370.0 L383.7 370.8 L382.4 371.7 L381.0 372.5 L379.7 373.3 L378.3 374.1 L376.9 374.8 L375.6 375.6 L374.2 376.4 L372.8 377.1 L371.5 377.9 L370.1 378.6 L368.8 379.3 L367.4 380.0 L366.1 380.7 L364.8 381.4 L363.5 382.0 L362.3 382.7 L361.0 383.3 L359.7 383.9 L358.5 384.5 L357.2 385.1 L355.9 385.7 L354.6 386.3 L353.4 386.8 L352.1 387.4 L350.9 387.9 L349.7 388.4 L348.4 388.9 L347.2 389.4 L346.0 389.9 L344.9 390.4 L343.7 390.8 L342.6 391.2 L341.5 391.6 L340.5 392.0 L339.4 392.3 L338.4 392.7 L337.4 393.0 L336.4 393.3 L335.4 393.5 L334.4 393.8 L333.4 394.0 L332.5 394.3 L331.5 394.5 L330.6 394.6 L329.7 394.8 L328.8 395.0 L327.9 395.1 L327.1 395.3 L326.3 395.4 L325.6 395.5 L324.9 395.6 L324.2 395.7 L323.7 395.8 L323.1 395.9 L322.6 396.0 Z" fill="#060606" stroke="none"/>
<path d="M392 267.3 C400 267.2 410 269 416 271.5 L421.5 274.2 L418.2 276.5 L418.1 280.5 C414 276 406 271.5 392 268.2 Z" fill="#060606" stroke="#060606" stroke-width="0.8"/>
<circle cx="757.4" cy="308.4" r="10.6" fill="#060606" stroke="none"/>
<circle cx="758.8" cy="386.6" r="10.6" fill="#060606" stroke="none"/>
<circle cx="761.4" cy="652.4" r="10.6" fill="#060606" stroke="none"/>
<circle cx="763.2" cy="731.6" r="10.6" fill="#060606" stroke="none"/>
<rect x="150.1" y="377.2" width="23.2" height="23.8" stroke-width="2.1"/>
<path d="M241.2 335 L322.5 336.5 L322.6 424 L241.2 423.4 Z" stroke-width="3.6" stroke-linejoin="miter"/>
<path d="M319.3 106 L319.3 137" stroke-width="1.3"/>
<path d="M341.4 115.4 L341.4 149" stroke-width="1.3"/>
<path d="M278.7 178 L278.7 225" stroke-width="1.3"/>
<path d="M566.3 230.6 L566.3 265" stroke-width="1.3"/>
<path d="M610.4 249.8 L610.4 295" stroke-width="1.3"/>
<path d="M266 379.4 L266 399.8" stroke-width="1.3"/>
<path d="M292.1 368.8 L292.1 392.8" stroke-width="1.3"/>
</g>
<g style="text-rendering:geometricPrecision;filter:grayscale(1)">
<text x="124.0" y="489.0" font-size="17.5" letter-spacing="0" stroke="#060606" stroke-width="0.6">2</text>
<text x="273.6" y="488.0" font-size="17" letter-spacing="0" stroke="#060606" stroke-width="0.6">3</text>
<text x="417.5" y="487.7" font-size="17" letter-spacing="0" stroke="#060606" stroke-width="0.6">4</text>
<text x="319.5" y="103.0" font-size="16.5" letter-spacing="0" stroke="#060606" stroke-width="0.6">0</text>
<text x="336.8" y="112.5" font-size="16" letter-spacing="0" stroke="#060606" stroke-width="0.6">9</text>
<text x="260.6" y="170.0" font-size="16.2" letter-spacing="-0.5" stroke="#060606" stroke-width="0.6">2,3,4</text>
<text x="560.7" y="227.3" font-size="15.3" letter-spacing="0" stroke="#060606" stroke-width="0.6">8</text>
<text x="605.0" y="245.8" font-size="15.3" letter-spacing="0" stroke="#060606" stroke-width="0.6">7</text>
<text x="261.2" y="415.4" font-size="17" letter-spacing="0" stroke="#060606" stroke-width="0.6">6</text>
<text x="289.0" y="408.3" font-size="16" letter-spacing="0" stroke="#060606" stroke-width="0.6">5</text>
</g>
<path d="M158.6 386 L162.2 383.4 L162.2 395.4" fill="none" stroke="#060606" stroke-width="1.9" stroke-linejoin="miter"/>
<path d="M314.6 93.8 L318 91.4 L318 103" fill="none" stroke="#060606" stroke-width="1.9" stroke-linejoin="miter"/>
</svg></body></html>
